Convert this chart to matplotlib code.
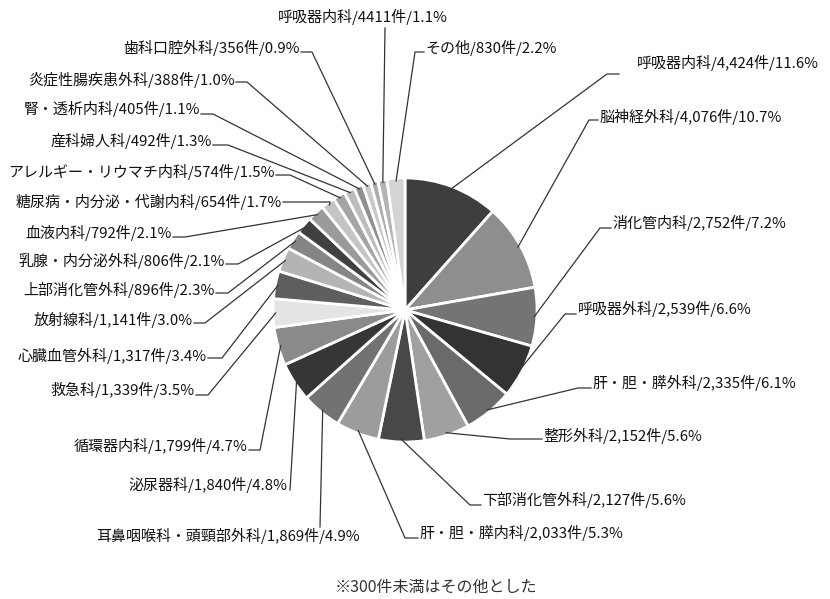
import matplotlib
matplotlib.use('Agg')
import numpy as np
import matplotlib.pyplot as plt

plt.rcParams['font.family'] = ['Noto Sans CJK JP', 'DejaVu Sans']

# data (clockwise from 12 o'clock)
names = ['呼吸器内科', '脳神経外科', '消化管内科', '呼吸器外科', '肝・胆・膵外科',
         '整形外科', '下部消化管外科', '肝・胆・膵内科', '耳鼻咽喉科・頭頸部外科', '泌尿器科',
         '循環器内科', '救急科', '心臓血管外科', '放射線科', '上部消化管外科',
         '乳腺・内分泌外科', '血液内科', '糖尿病・内分泌・代謝内科', 'アレルギー・リウマチ内科', '産科婦人科',
         '腎・透析内科', '炎症性腸疾患外科', '歯科口腔外科', '呼吸器内科', 'その他']
counts = ['4,424', '4,076', '2,752', '2,539', '2,335',
          '2,152', '2,127', '2,033', '1,869', '1,840',
          '1,799', '1,339', '1,317', '1,141', '896',
          '806', '792', '654', '574', '492',
          '405', '388', '356', '4411', '830']
pcts = [11.6, 10.7, 7.2, 6.6, 6.1,
        5.6, 5.6, 5.3, 4.9, 4.8,
        4.7, 3.5, 3.4, 3.0, 2.3,
        2.1, 2.1, 1.7, 1.5, 1.3,
        1.1, 1.0, 0.9, 1.1, 2.2]
note = '※300件未満はその他とした'

colors = ['#3e3e3e', '#8e8e8e', '#747474', '#333333', '#6a6a6a',
          '#a0a0a0', '#484848', '#9c9c9c', '#727272', '#363636',
          '#8a8a8a', '#e4e4e4', '#5e5e5e', '#b4b4b4', '#858585',
          '#404040', '#9a9a9a', '#c4c4c4', '#a4a4a4', '#bcbcbc',
          '#909090', '#c8c8c8', '#acacac', '#b4b4b4', '#d4d4d4']

# label layout in pixels from top-left: text x, text y, ha, leader path end points
H = 599
layout = [
    (637, 63, 'left', [(607, 74), (619, 74)]),
    (599, 117, 'left', [(589, 120), (598, 120)]),
    (612, 223, 'left', [(600, 228), (611, 228)]),
    (578, 309, 'left', [(565, 314), (576, 314)]),
    (592, 383, 'left', [(578, 388), (591, 388)]),
    (543, 436, 'left', [(510, 439), (542, 439)]),
    (482, 500, 'left', [(470, 505), (481, 505)]),
    (419, 533, 'left', [(405, 538), (418, 538)]),
    (360, 536, 'right', [(320, 527)]),
    (287, 485, 'right', [(290, 490)]),
    (248, 446, 'right', [(260, 450), (249, 450)]),
    (195, 390, 'right', [(208, 395), (196, 395)]),
    (207, 356, 'right', [(222, 358), (208, 358)]),
    (193, 320, 'right', [(205, 323), (194, 323)]),
    (215, 290, 'right', [(228, 293), (216, 293)]),
    (225, 261, 'right', [(238, 264), (226, 264)]),
    (172, 233, 'right', [(185, 237), (173, 237)]),
    (282, 202, 'right', [(330, 202), (283, 202)]),
    (275, 172, 'right', [(290, 175), (276, 175)]),
    (212, 141, 'right', [(228, 145), (213, 145)]),
    (200, 109, 'right', [(213, 114), (201, 114)]),
    (235, 80, 'right', [(247, 82), (236, 82)]),
    (300, 48, 'right', [(312, 52), (301, 52)]),
    (363, 17, 'center', [(385, 28)]),
    (425, 48, 'left', [(415, 52), (424, 52)]),
]

cx, cy, R = 405, H - 310, 132

fig = plt.figure(figsize=(8.3, 5.99), dpi=100)
ax = fig.add_axes([0, 0, 1, 1])
wedges, _ = ax.pie(pcts, colors=colors, startangle=90, counterclock=False,
                   center=(cx, cy), radius=R, explode=[0.045] * len(pcts), frame=True,
                   wedgeprops=dict(edgecolor='white', linewidth=2.0))
ax.set_xlim(0, 830)
ax.set_ylim(0, H)
ax.set_axis_off()

for w, name, c, p, (tx, ty, ha, path) in zip(wedges, names, counts, pcts, layout):
    ang = np.deg2rad((w.theta1 + w.theta2) / 2)
    wx, wy = w.center
    sx = wx + w.r * 0.98 * np.cos(ang)
    sy = wy + w.r * 0.98 * np.sin(ang)
    xs = [sx] + [q[0] for q in path]
    ys = [sy] + [H - q[1] for q in path]
    ax.plot(xs, ys, color='#333333', lw=0.9)
    ax.text(tx, H - ty, f'{name}/{c}件/{p:.1f}%', ha=ha, va='center',
            fontsize=10.8, color='#111111')

ax.text(436, H - 587, note, ha='center', va='center', fontsize=11.5, color='#333333')

fig.savefig('out.png', dpi=100)
